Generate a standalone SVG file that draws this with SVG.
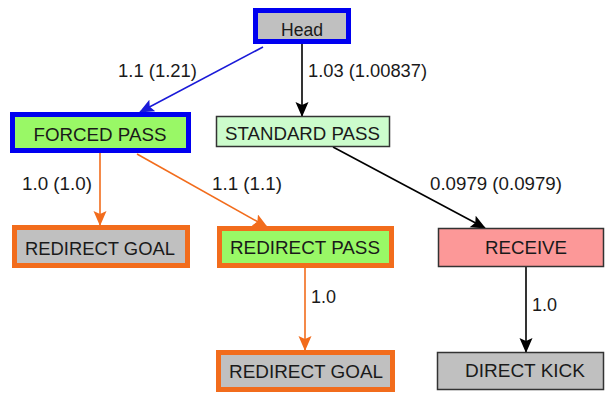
<svg xmlns="http://www.w3.org/2000/svg" width="605" height="393" viewBox="0 0 605 393">
<style>
text{font-family:"Liberation Sans",Arial,sans-serif;font-size:18px;fill:#1a1a1a}
.n{text-anchor:middle}
.e{fill:none;stroke-width:1.6}
</style>
<defs>
<marker id="ab" markerUnits="userSpaceOnUse" markerWidth="16" markerHeight="14" refX="14" refY="6.5" orient="auto"><path d="M0,0 L15,6.5 L0,13 L3,6.5 z" fill="#1a1ad8"/></marker>
<marker id="ak" markerUnits="userSpaceOnUse" markerWidth="16" markerHeight="14" refX="14" refY="6.5" orient="auto"><path d="M0,0 L15,6.5 L0,13 L3,6.5 z" fill="#000"/></marker>
<marker id="ao" markerUnits="userSpaceOnUse" markerWidth="16" markerHeight="14" refX="14" refY="6.5" orient="auto"><path d="M0,0 L15,6.5 L0,13 L3,6.5 z" fill="#f26c1c"/></marker>
</defs>
<rect width="605" height="393" fill="#fff"/>
<g id="connectors">
<path class="e" d="M263,47 L140,112" stroke="#1a1ad8" marker-end="url(#ab)"/>
<path class="e" d="M302,44 L302,116" stroke="#000" marker-end="url(#ak)"/>
<path class="e" d="M100,153 L100,225" stroke="#f26c1c" marker-end="url(#ao)"/>
<path class="e" d="M137,154 L267,227" stroke="#f26c1c" marker-end="url(#ao)"/>
<path class="e" d="M333,147 L485,228" stroke="#000" marker-end="url(#ak)"/>
<path class="e" d="M305,268 L305,350" stroke="#f26c1c" marker-end="url(#ao)"/>
<path class="e" d="M526,267 L526,352" stroke="#000" marker-end="url(#ak)"/>
<text x="118" y="77" textLength="79" lengthAdjust="spacingAndGlyphs">1.1 (1.21)</text>
<text x="308" y="77" textLength="119" lengthAdjust="spacingAndGlyphs">1.03 (1.00837)</text>
<text x="22" y="190" textLength="70" lengthAdjust="spacingAndGlyphs">1.0 (1.0)</text>
<text x="212" y="190" textLength="70" lengthAdjust="spacingAndGlyphs">1.1 (1.1)</text>
<text x="430" y="190" textLength="132" lengthAdjust="spacingAndGlyphs">0.0979 (0.0979)</text>
<text x="311" y="303" textLength="25" lengthAdjust="spacingAndGlyphs">1.0</text>
<text x="532" y="311" textLength="25" lengthAdjust="spacingAndGlyphs">1.0</text>
</g>
<g id="head">
<rect x="255.5" y="10.5" width="93" height="31" fill="#c0c0c0" stroke="#0000f0" stroke-width="5"/>
<text class="n" x="302" y="36" textLength="42" lengthAdjust="spacingAndGlyphs">Head</text>
</g>
<g id="forced-pass">
<rect x="12.5" y="114.5" width="176" height="36" fill="#99f866" stroke="#0000f0" stroke-width="5"/>
<text class="n" x="100" y="141" textLength="133" lengthAdjust="spacingAndGlyphs">FORCED PASS</text>
</g>
<g id="standard-pass">
<rect x="216.5" y="116.5" width="173" height="30" fill="#ccfccc" stroke="#333" stroke-width="1.5"/>
<text class="n" x="302.5" y="140" textLength="155" lengthAdjust="spacingAndGlyphs">STANDARD PASS</text>
</g>
<g id="redirect-goal-1">
<rect x="14.5" y="227.5" width="173" height="38" fill="#c0c0c0" stroke="#f26c1c" stroke-width="5"/>
<text class="n" x="100" y="255" textLength="150" lengthAdjust="spacingAndGlyphs">REDIRECT GOAL</text>
</g>
<g id="redirect-pass">
<rect x="219.5" y="228.5" width="172" height="37" fill="#99f866" stroke="#f26c1c" stroke-width="5"/>
<text class="n" x="305" y="254" textLength="150" lengthAdjust="spacingAndGlyphs">REDIRECT PASS</text>
</g>
<g id="receive">
<rect x="438.5" y="228.5" width="165" height="38" fill="#fc9898" stroke="#333" stroke-width="1.5"/>
<text class="n" x="526" y="254" textLength="82" lengthAdjust="spacingAndGlyphs">RECEIVE</text>
</g>
<g id="redirect-goal-2">
<rect x="218.5" y="352.5" width="174" height="37" fill="#c0c0c0" stroke="#f26c1c" stroke-width="5"/>
<text class="n" x="306" y="378" textLength="154" lengthAdjust="spacingAndGlyphs">REDIRECT GOAL</text>
</g>
<g id="direct-kick">
<rect x="437.5" y="352.5" width="166" height="37" fill="#c0c0c0" stroke="#333" stroke-width="1.5"/>
<text class="n" x="525" y="377" textLength="120" lengthAdjust="spacingAndGlyphs">DIRECT KICK</text>
</g>
</svg>
